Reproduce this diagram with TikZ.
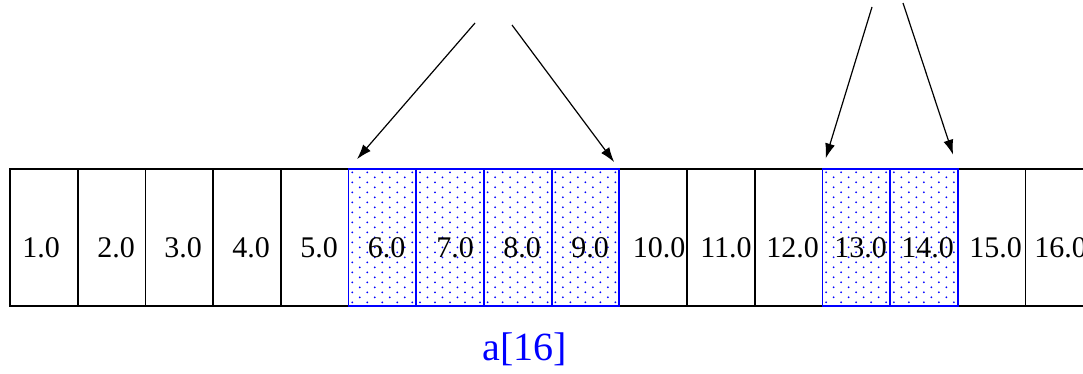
\documentclass[tikz,border=0pt]{standalone}
\usepackage{fontspec}
\setmainfont{Liberation Serif}
\usetikzlibrary{arrows.meta}
\definecolor{figblue}{RGB}{0,0,255}
\begin{document}
\begin{tikzpicture}[x=1pt,y=-1pt,
  cellbox/.style={draw=black,line width=1.8pt,minimum width=67.7pt,minimum height=137pt,inner sep=0pt,outer sep=0pt},
  hotbox/.style={cellbox,draw=figblue},
  valtext/.style={font=\fontsize{30}{30}\selectfont,anchor=base,inner sep=0pt},
  pointer/.style={-{Latex[length=15pt,width=10pt]},line width=1.2pt}]
\useasboundingbox[fill=white] (0,0) rectangle (1083,373);
% plain cells
\foreach \k in {1,2,3,4,5,10,11,12,15,16}
  \node[cellbox] (c\k) at ({10+67.7*(\k-0.5)},237.5) {};
% dot shading
\foreach \k in {6,7,8,9,13,14} {
  \foreach \i in {0,...,8} {
    \foreach \j in {0,...,26} {
      \pgfmathtruncatemacro{\dotpar}{mod(\i+\j,2)}
      \ifnum\dotpar=0
        \fill[figblue] ({10+67.7*(\k-1)+3.75+7.5*\i},{169+3.3+5*\j}) circle (1.0);
      \fi
    }
  }
}
% highlighted cells
\foreach \k in {6,7,8,9,13,14}
  \node[hotbox] (c\k) at ({10+67.7*(\k-0.5)},237.5) {};
% values
\foreach \k/\x in {1/41,2/116,3/183,4/251,5/319,6/386.5,7/455,8/522,9/590,10/659,11/726,12/792.5,13/860.5,14/927.5,15/995.5,16/1060.5}
  \node[valtext] (t\k) at (\x,257) {\k.0};
% label
\node[font=\fontsize{40}{40}\selectfont,text=figblue,anchor=base,inner sep=0pt] (lbl) at (525,360) {a[16]};
% pointers
\coordinate (s1) at (475,23);
\coordinate (s2) at (512,25);
\coordinate (s3) at (872,7);
\coordinate (s4) at (903,3);
\draw[pointer,shorten >=13pt] (s1) -- (c6.north west);
\draw[pointer,shorten >=8.5pt] (s2) -- (c9.north east);
\draw[pointer,shorten >=11pt] (s3) -- (c13.north west);
\draw[pointer,shorten >=15pt] (s4) -- (c14.north east);
\end{tikzpicture}
\end{document}
